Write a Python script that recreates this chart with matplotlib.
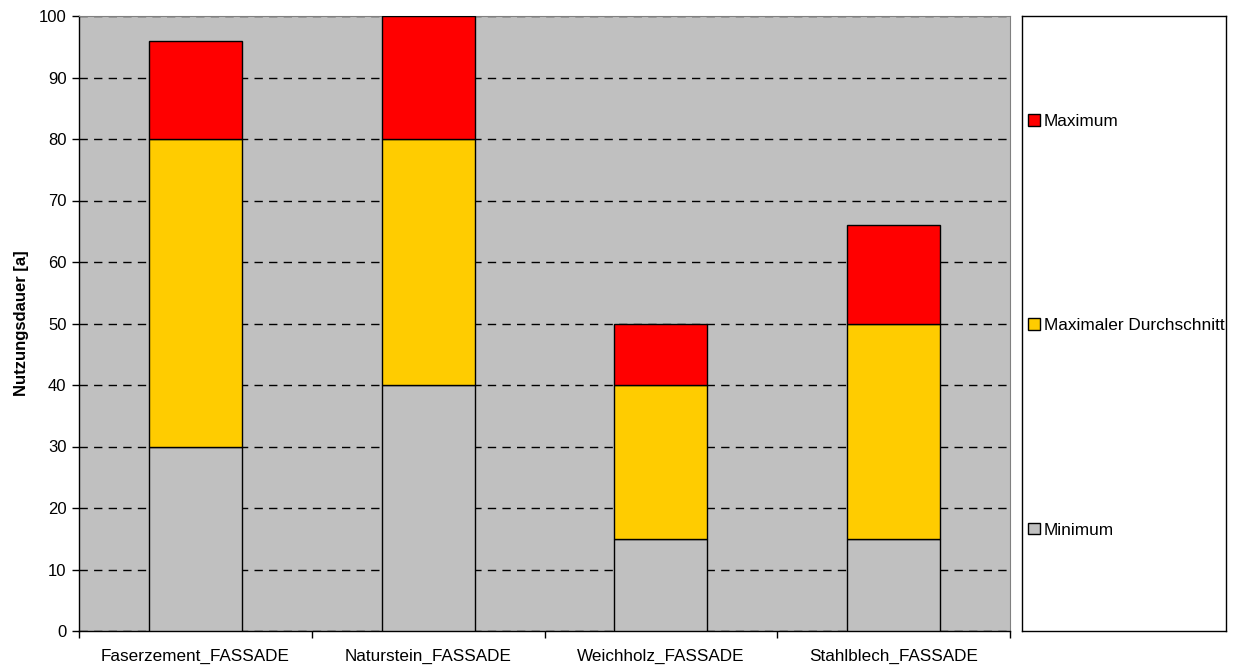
import matplotlib.pyplot as plt
from matplotlib.patches import Patch

plt.rcParams['font.family'] = ['Liberation Sans', 'DejaVu Sans']

categories = ['Faserzement_FASSADE', 'Naturstein_FASSADE', 'Weichholz_FASSADE', 'Stahlblech_FASSADE']
minimum = [30, 40, 15, 15]
max_durchschnitt = [80, 80, 40, 50]
maximum = [96, 100, 50, 66]

seg_min = minimum
seg_avg = [a - m for a, m in zip(max_durchschnitt, minimum)]
seg_max = [x - a for x, a in zip(maximum, max_durchschnitt)]

c_min, c_avg, c_max = '#C0C0C0', '#FFCC00', '#FF0000'
FS = 12

fig = plt.figure(figsize=(12.35, 6.71), dpi=100)
W, H = 1235, 671
ax = fig.add_axes([79 / W, 1 - 631 / H, (1010 - 79) / W, (631 - 16) / H])
ax.set_facecolor('#C0C0C0')

x = list(range(len(categories)))
kw = dict(width=0.4, edgecolor='black', linewidth=1.0, zorder=3)
ax.bar(x, seg_min, color=c_min, label='Minimum', **kw)
ax.bar(x, seg_avg, bottom=minimum, color=c_avg, label='Maximaler Durchschnitt', **kw)
ax.bar(x, seg_max, bottom=max_durchschnitt, color=c_max, label='Maximum', **kw)

ax.set_xlim(-0.5, len(categories) - 0.5)
ax.set_ylim(0, 100)
ax.set_yticks(range(0, 101, 10))
ax.set_xticks(x)
ax.set_xticklabels(categories, fontsize=12.3)
ax.tick_params(axis='x', length=0, pad=13)
ax.set_xticks([i - 0.5 for i in range(len(categories) + 1)], minor=True)
ax.tick_params(axis='x', which='minor', length=5, width=1, direction='out')
ax.tick_params(axis='y', length=5, width=1, direction='out', labelsize=FS, pad=4)

ax.yaxis.grid(True, color='black', linestyle=(0, (6, 4.5)), linewidth=1.0, zorder=1)
ax.set_axisbelow(True)
for s in ['top', 'right']:
    ax.spines[s].set_color('#808080')
for s in ['left', 'bottom']:
    ax.spines[s].set_color('black')
    ax.spines[s].set_linewidth(1.0)

ax.set_ylabel('Nutzungsdauer [a]', fontsize=FS, fontweight='bold', labelpad=7)

# legend box
lax = fig.add_axes([1022 / W, 1 - 631 / H, (1226 - 1022) / W, (631 - 16) / H])
lax.set_xticks([])
lax.set_yticks([])
for s in lax.spines.values():
    s.set_color('black')
    s.set_linewidth(1.0)
handles = [Patch(facecolor=c_max, edgecolor='black'),
           Patch(facecolor=c_avg, edgecolor='black'),
           Patch(facecolor=c_min, edgecolor='black')]
labels = ['Maximum', 'Maximaler Durchschnitt', 'Minimum']
lax.legend(handles, labels, loc='center left', bbox_to_anchor=(0.0, 0.4965), frameon=False,
           fontsize=12.4, handlelength=0.68, handleheight=0.68, handletextpad=0.22,
           labelspacing=11.0, borderaxespad=0.0, borderpad=0.35)

fig.savefig('out.png', dpi=100)
